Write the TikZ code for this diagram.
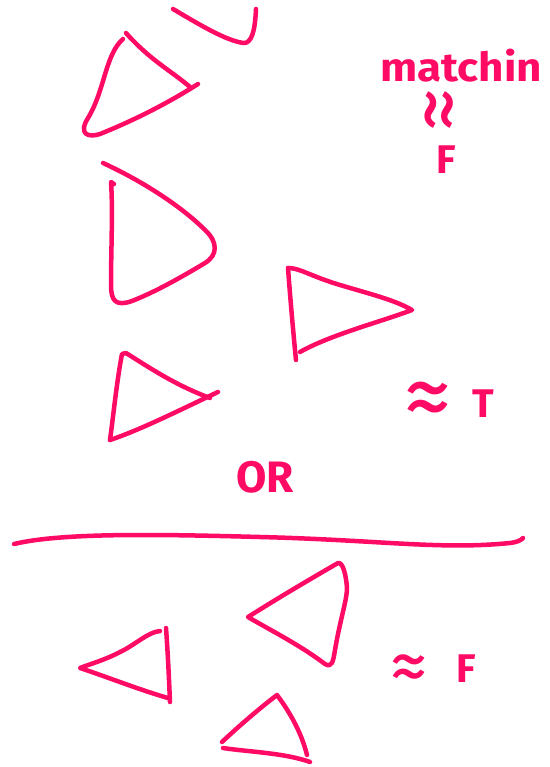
\documentclass[tikz,border=0pt]{standalone}
\usepackage{fontspec}
\setsansfont{Fira Sans}
\definecolor{ink}{RGB}{255,10,100}
\begin{document}
\begin{tikzpicture}[x=1pt, y=-1pt,
		pen/.style={draw=ink, line width=4.5pt, line cap=round, line join=round},
		scrawl/.style={text=ink, font=\sffamily\bfseries\fontsize{40}{40}\selectfont, inner sep=0pt},
		squiggle/.style={scrawl, font=\sffamily\fontsize{40}{40}\selectfont}]
		\useasboundingbox (0, 0) rectangle (549, 767);
		% above the rule
		\draw [pen] (173, 9) .. controls (200, 25) and (225, 40) .. (243, 43) .. controls (252, 44) and (255, 30) .. (256, 9);
		\draw [pen] (126, 33) .. controls (150, 60) and (170, 70) .. (190, 87);
		\draw [pen] (123, 39) .. controls (105, 55) and (105, 90) .. (88, 118) .. controls (78, 134) and (88, 138) .. (100, 134) .. controls (130, 122) and (165, 105) .. (198, 84);
		\draw [pen] (103, 163) .. controls (140, 180) and (180, 205) .. (205, 230) .. controls (218, 242) and (218, 255) .. (205, 263) .. controls (180, 278) and (155, 292) .. (132, 301) .. controls (115, 307) and (111, 300) .. (111, 285) .. controls (111, 250) and (113, 210) .. (111, 182) -- (114, 184);
		\draw [pen] (296, 360) .. controls (293, 330) and (290, 295) .. (288, 268);
		\draw [pen] (288, 268) .. controls (300, 268) and (310, 276) .. (340, 285) .. controls (370, 294) and (395, 300) .. (412, 310) .. controls (380, 322) and (330, 335) .. (300, 352);
		\draw [pen] (110, 440) .. controls (114, 410) and (117, 380) .. (122, 354) -- (126, 353) .. controls (150, 368) and (175, 385) .. (210, 398);
		\draw [pen] (110, 440) .. controls (140, 430) and (180, 410) .. (218, 392);
		\node [scrawl, xscale=1.1] (match) at (461, 66) {matchin};
		\node [squiggle, rotate=90] (simtop) at (446, 110) {\scalebox{2.2}{≈}};
		\node [scrawl] (falsetop) at (446, 160) {F};
		\node [squiggle] (simT) at (428, 405) {\scalebox{2.4}{≈}};
		\node [scrawl] (true) at (483, 404) {T};
		\node [scrawl, font=\sffamily\bfseries\fontsize{44}{44}\selectfont] (or) at (265, 477) {OR};
		% the rule
		\draw [pen] (14, 544) .. controls (60, 533) and (150, 534) .. (260, 537) .. controls (380, 540) and (440, 550) .. (510, 543) .. controls (518, 542) and (521, 540) .. (523, 538);
		% below the rule
		\draw [pen] (338, 563) .. controls (300, 585) and (275, 600) .. (248, 617) .. controls (270, 630) and (300, 645) .. (325, 664) .. controls (332, 668) and (333, 662) .. (335, 650) .. controls (340, 620) and (347, 600) .. (347, 588) .. controls (346, 575) and (343, 562) .. (338, 563);
		\draw [pen] (166, 628) .. controls (168, 655) and (169, 680) .. (170, 702);
		\draw [pen] (160, 631) .. controls (148, 632) and (135, 645) .. (120, 652) .. controls (105, 660) and (90, 664) .. (80, 668) .. controls (110, 678) and (140, 690) .. (168, 698);
		\draw [pen] (222, 742) .. controls (240, 725) and (260, 708) .. (277, 695) .. controls (292, 715) and (302, 735) .. (307, 755);
		\draw [pen] (223, 748) .. controls (250, 752) and (285, 753) .. (310, 762);
		\node [squiggle] (simF) at (409, 673) {\scalebox{1.9}{≈}};
		\node [scrawl] (false) at (466, 669) {F};
	\end{tikzpicture}
\end{document}
